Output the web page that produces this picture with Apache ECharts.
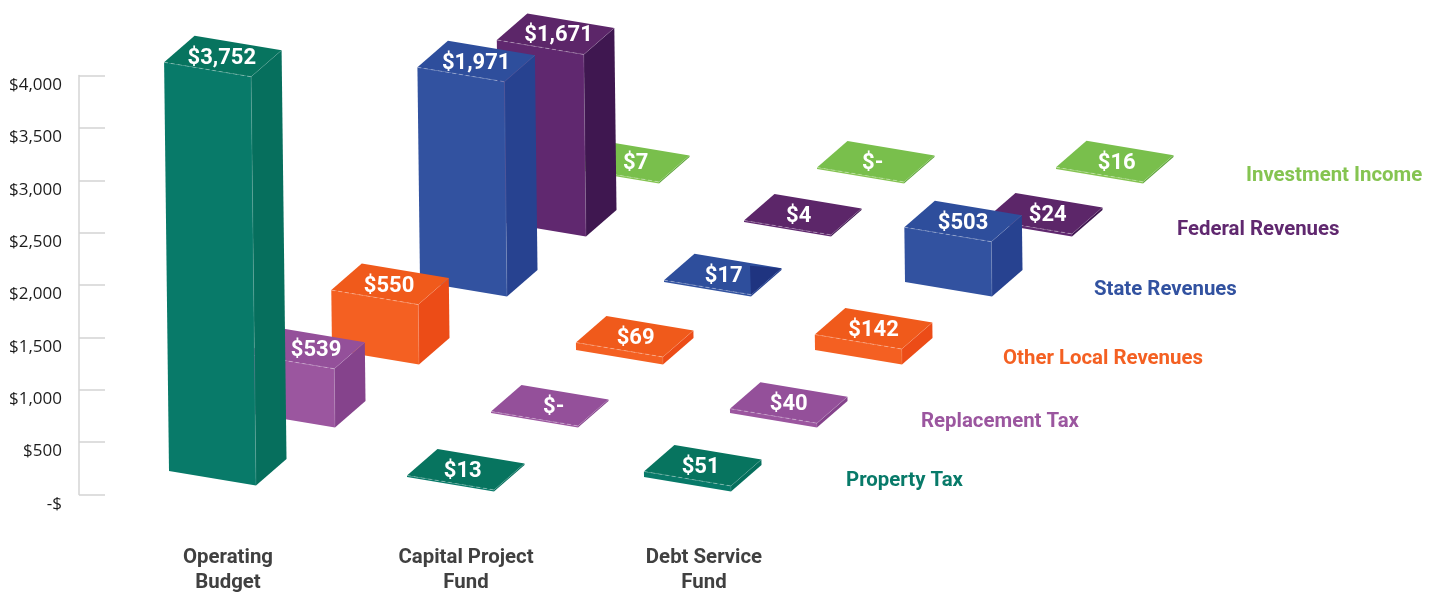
<!DOCTYPE html>
<html>
<head>
<meta charset="utf-8">
<script src="https://cdn.jsdelivr.net/npm/echarts@6/dist/echarts.min.js"></script>
<style>
  html, body { margin: 0; padding: 0; background: #fff; }
  #chart { width: 1440px; height: 592px; }
</style>
</head>
<body>
<div id="chart"></div>
<script>
const funds = ["Operating\nBudget", "Capital Project\nFund", "Debt Service\nFund"];
const revenueNames = ["Property Tax", "Replacement Tax", "Other Local Revenues", "State Revenues", "Federal Revenues", "Investment Income"];

const propertyTax = [3752, 13, 51];
const replacementTax = [539, 0, 40];
const otherLocal = [550, 69, 142];
const stateRevenues = [1971, 17, 503];
const federalRevenues = [1671, 4, 24];
const investmentIncome = [7, 0, 16];
const revenueValues = [propertyTax, replacementTax, otherLocal, stateRevenues, federalRevenues, investmentIncome];

const axisTicks = { min: 0, max: 4000, interval: 500 };

// colours per row: front, top, side
const rowColors = [
  ["#087a69", "#07745f", "#066f5d"],
  ["#9b569f", "#94509a", "#85438c"],
  ["#f46022", "#f05a1b", "#ec4c17"],
  ["#3252a0", "#2e4e9c", "#274290"],
  ["#60286f", "#5c2669", "#3f1750"],
  ["#85c451", "#79bf4c", "#5fa53c"],
];

// fake 3d layout, row steps going back into the picture
const baseDx = 28;
const rowDx = [0, 84, 169, 257, 337, 410];
const rowDy = [-3, -67, -130, -198, -258, -311];
const nudgeX = [
  [0, 0, -1],
  [-5, 0, 1],
  [-6, 0, 1],
  [-6, 0, 3],
  [-7, 0, 3],
  [-7, 0, 1],
];
// value labels are not always centred on the top face
const labelNudgeX = [
  [-1, -3, -2],
  [10, 4, 0],
  [-1, 1, 0],
  [0, 1, 0],
  [3, -4, 4],
  [5, -3, 2],
];
const faceLeft = [-87, -14.5];
const faceRight = [30.5, -26.5];
const heightGain = 1.04;
const lean = 0.012;
const minHeight = 1.6;

const rowLabelPos = [[846, 479], [921, 420], [1003, 357], [1094, 288], [1177, 228], [1246, 174]];

function money(v) {
  return v === 0 ? "$-" : "$" + v.toLocaleString("en-US");
}

function add(p, d) {
  return [p[0] + d[0], p[1] + d[1]];
}

function poly(points, color) {
  return { type: "polygon", shape: { points: points }, style: { fill: color } };
}

function makeRender(row) {
  return function (params, api) {
    const col = api.value(0);
    const value = api.value(1);
    const zero = api.coord([col, 0]);
    const top = api.coord([col, value]);
    const h = Math.max((zero[1] - top[1]) * heightGain, minHeight);
    // the tall teal bar sits a little higher than its row
    const lift = row === 0 && col === 0 ? -6 : 0;

    const B = [zero[0] + baseDx + rowDx[row] + nudgeX[row][col], zero[1] + rowDy[row] + lift];
    const T = [B[0] - lean * h, B[1] - h];
    const BL = add(B, faceLeft);
    const BR = add(B, faceRight);
    const TL = add(T, faceLeft);
    const TR = add(T, faceRight);
    const TB = add(TL, faceRight);
    const colors = rowColors[row];

    const children = [
      poly([TL, T, B, BL], colors[0]),
      poly([T, TR, BR, B], colors[2]),
      poly([TL, TB, TR, T], colors[1]),
      {
        type: "line",
        shape: { x1: TL[0], y1: TL[1], x2: T[0], y2: T[1] },
        style: { stroke: "rgba(255,255,255,0.4)", lineWidth: 0.8, lineDash: [4, 3] },
      },
      {
        type: "line",
        shape: { x1: T[0], y1: T[1], x2: B[0], y2: B[1] },
        style: { stroke: "rgba(255,255,255,0.15)", lineWidth: 0.8 },
      },
      {
        type: "line",
        shape: { x1: T[0], y1: T[1], x2: TR[0], y2: TR[1] },
        style: { stroke: "rgba(255,255,255,0.12)", lineWidth: 0.8 },
      },
    ];

    // the $17 tile has a dark corner in the original
    if (row === 3 && col === 1) {
      children.push(poly([T, TR, add(T, [-1, -29])], "#1f3480"));
    }

    children.push({
      type: "text",
      style: {
        text: money(value),
        x: T[0] + (faceLeft[0] + faceRight[0]) / 2 + labelNudgeX[row][col],
        y: T[1] + (faceLeft[1] + faceRight[1]) / 2 + 2,
        fill: "#ffffff",
        font: "bold 22px Roboto",
        align: "center",
        verticalAlign: "middle",
      },
    });

    return { type: "group", children: children };
  };
}

// back rows first so the front ones cover them
const series = [];
for (let row = revenueValues.length - 1; row >= 0; row--) {
  series.push({
    name: revenueNames[row],
    type: "custom",
    clip: false,
    renderItem: makeRender(row),
    encode: { x: 0, y: 1 },
    data: revenueValues[row].map((v, i) => [i, v]),
  });
}

const myChart = echarts.init(document.getElementById("chart"));
const option = {
  animation: false,
  backgroundColor: "#ffffff",
  grid: { left: 109, top: 75.5, width: 714, height: 419, outerBoundsMode: "none" },
  xAxis: {
    type: "category",
    data: funds,
    axisLine: { show: false },
    axisTick: { show: false },
    axisLabel: {
      interval: 0,
      margin: 51,
      color: "#404040",
      fontFamily: "Roboto",
      fontWeight: "bold",
      fontSize: 20.4,
      lineHeight: 25,
    },
  },
  yAxis: {
    type: "value",
    min: axisTicks.min,
    max: axisTicks.max,
    interval: axisTicks.interval,
    offset: 30,
    splitLine: { show: false },
    axisLine: { show: true, lineStyle: { color: "#d4d4d4", width: 1.5 } },
    axisTick: { show: true, inside: true, length: 26, lineStyle: { color: "#d4d4d4", width: 1.5 } },
    axisLabel: {
      margin: 17,
      verticalAlign: "top",
      lineHeight: 19,
      color: "#1c1c1c",
      fontFamily: "Open Sans",
      fontSize: 17,
      formatter: (v) => (v === 0 ? "-$" : "$" + v.toLocaleString("en-US")),
    },
  },
  graphic: revenueNames.map((name, i) => ({
    type: "text",
    left: rowLabelPos[i][0],
    top: rowLabelPos[i][1] - 8,
    style: {
      text: name,
      fill: rowColors[i][0],
      font: "bold 20.4px Roboto",
    },
  })),
  series: series,
};
myChart.setOption(option);
</script>
</body>
</html>
